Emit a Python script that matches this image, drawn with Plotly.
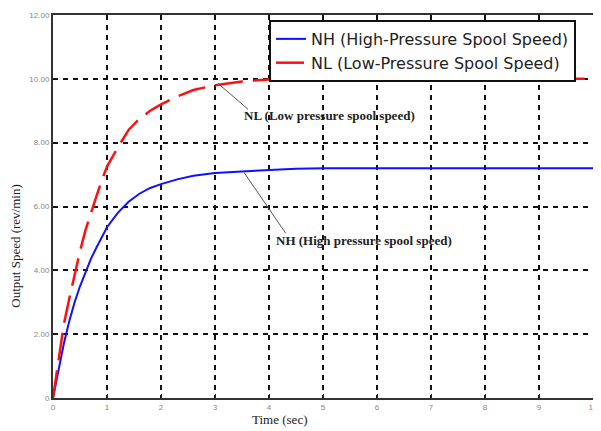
import plotly.graph_objects as go

time_s = [0, 0.1, 0.2, 0.3, 0.4, 0.5, 0.6, 0.7, 0.8, 0.9, 1.0, 1.2, 1.4, 1.6, 1.8,
          2.0, 2.3, 2.6, 3.0, 3.5, 4.0, 4.5, 5.0, 6.0, 7.0, 8.0, 9.0, 10.0]
nh_speed = [0, 0.9, 1.7, 2.4, 3.0, 3.5, 3.95, 4.35, 4.7, 5.05, 5.35, 5.8, 6.15, 6.4, 6.58,
            6.7, 6.85, 6.96, 7.05, 7.1, 7.15, 7.18, 7.2, 7.2, 7.2, 7.2, 7.2, 7.2]
nl_speed = [0, 1.2, 2.3, 3.1, 3.9, 4.6, 5.25, 5.8, 6.3, 6.8, 7.25, 7.85, 8.4, 8.75, 9.0,
            9.2, 9.45, 9.65, 9.8, 9.92, 9.98, 10.0, 10.0, 10.0, 10.0, 10.0, 10.0, 10.0]
x_ticks = list(range(0, 11))
x_tick_text = [str(v) for v in x_ticks]
y_ticks = [0, 2, 4, 6, 8, 10, 12]
y_tick_text = ["0", "2.00", "4.00", "6.00", "8.00", "10.00", "12.00"]

fig = go.Figure()
fig.add_trace(go.Scatter(x=time_s, y=nh_speed, mode="lines",
                         name="NH (High-Pressure Spool Speed)",
                         line=dict(color="#1010ff", width=2)))
fig.add_trace(go.Scatter(x=time_s, y=nl_speed, mode="lines",
                         name="NL (Low-Pressure Spool Speed)",
                         line=dict(color="#ff1010", width=2.5, dash="28px,10px")))

axis_common = dict(showgrid=True, gridcolor="#111", gridwidth=2, griddash="5px,5px",
                   showline=True, linecolor="#333", linewidth=2, mirror=True,
                   zeroline=False, ticks="inside", ticklen=4, tickcolor="#222",
                   tickfont=dict(family="Liberation Sans", size=8, color="#888"))

fig.update_xaxes(range=[0, 10], tickvals=x_ticks, ticktext=x_tick_text, **axis_common)
fig.update_yaxes(range=[0, 12], tickvals=y_ticks, ticktext=y_tick_text, **axis_common)

fig.add_shape(type="line", x0=3.06, y0=9.85, x1=3.61, y1=9.05,
              line=dict(color="#555", width=1))
fig.add_shape(type="line", x0=3.54, y0=7.06, x1=4.31, y1=5.16,
              line=dict(color="#555", width=1))
fig.add_annotation(x=3.5, y=8.86, text="<b>NL (Low pressure spool speed)</b>",
                   showarrow=False, xanchor="left", yanchor="middle",
                   font=dict(family="Liberation Serif", size=13, color="#222"))
fig.add_annotation(x=4.1, y=4.94, text="<b>NH (High pressure spool speed)</b>",
                   showarrow=False, xanchor="left", yanchor="middle",
                   font=dict(family="Liberation Serif", size=13, color="#222"))
fig.add_annotation(x=0.42, y=-0.057, xref="paper", yref="paper",
                   text="Time (sec)", showarrow=False,
                   xanchor="center", yanchor="middle",
                   font=dict(family="Liberation Serif", size=13, color="#222"))
fig.add_annotation(x=-0.0697, y=0.396, xref="paper", yref="paper",
                   text="Output Speed (rev/min)", showarrow=False, textangle=-90,
                   xanchor="center", yanchor="middle",
                   font=dict(family="Liberation Serif", size=13, color="#222"))

fig.update_layout(
    width=593, height=423,
    margin=dict(l=45, r=3, t=4, b=33),
    paper_bgcolor="white", plot_bgcolor="white",
    showlegend=True,
    legend=dict(x=0.4, y=0.987, xanchor="left", yanchor="top",
                bgcolor="white", bordercolor="#111", borderwidth=2,
                font=dict(family="DejaVu Sans", size=16, color="#222"),
                tracegroupgap=0, itemwidth=30),
)

fig.write_html("out.html")
